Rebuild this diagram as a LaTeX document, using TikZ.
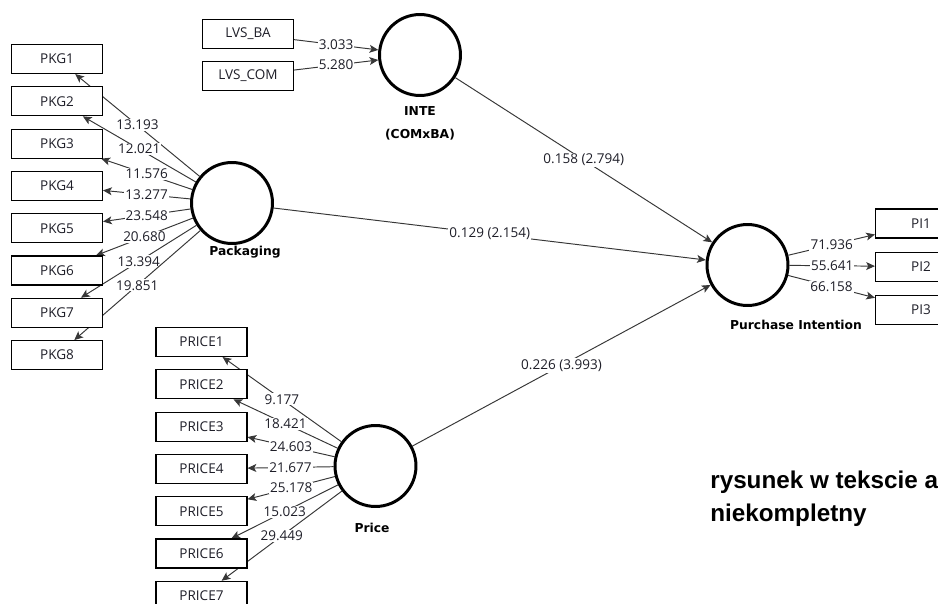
\documentclass[tikz,border=0pt]{standalone}
\usepackage{fontspec}
\setmainfont{Open Sans}
\newfontfamily\heavyfont{DejaVu Sans}
\newfontfamily\notefont{Liberation Sans}
\usepackage{tikz}
\usetikzlibrary{arrows.meta,positioning,backgrounds}
\definecolor{plsline}{RGB}{55,55,55}
\definecolor{plstext}{RGB}{30,30,40}

\begin{document}
\begin{tikzpicture}[x=0.02cm,y=-0.02cm,
  ind/.style={draw,fill=white,line width=0.6pt,minimum width=1.82cm,minimum height=0.58cm,inner sep=0pt,font=\fontsize{7.7}{9}\selectfont,text=plstext},
  lat/.style={circle,draw,line width=1.7pt,fill=white,minimum size=1.62cm,inner sep=0pt},
  latlbl/.style={font=\heavyfont\bfseries\fontsize{7}{13}\selectfont,align=center},
  arr/.style={-{Stealth[length=5pt,width=4.5pt,inset=1.2pt]},line width=0.55pt,draw=plsline},
  val/.style={fill=white,inner sep=0.6pt,font=\fontsize{7.7}{9}\selectfont,text=plstext},
  note/.style={font=\notefont\bfseries\fontsize{13.8}{17}\selectfont,inner sep=0pt},
  node distance=0.245cm]
  \useasboundingbox (0,0) rectangle (938,603);
  % latent variables
  \node[lat] (inte) at (420,55) {};
  \node[latlbl] (intelbl) at (420,123) {INTE\\(COMxBA)};
  \node[lat] (pack) at (232,203) {};
  \node[latlbl] (packlbl) at (245,252) {Packaging};
  \node[lat] (price) at (375.5,466) {};
  \node[latlbl] (pricelbl) at (372,528) {Price};
  \node[lat] (pi) at (747.5,265) {};
  \node[latlbl] (pilbl) at (796,325) {Purchase Intention};
  % interaction indicators
  \node[ind,minimum width=1.82cm] (lvsba) at (248,34) {LVS\_BA};
  \node[ind,below=0.23cm of lvsba] (lvscom) {LVS\_COM};
  % packaging indicators
  \node[ind] (pkg1) at (57,59) {PKG1};
  \node[ind,below=of pkg1] (pkg2) {PKG2};
  \node[ind,below=of pkg2] (pkg3) {PKG3};
  \node[ind,below=of pkg3] (pkg4) {PKG4};
  \node[ind,below=of pkg4] (pkg5) {PKG5};
  \node[ind,below=of pkg5] (pkg6) {PKG6};
  \node[ind,below=of pkg6] (pkg7) {PKG7};
  \node[ind,below=of pkg7] (pkg8) {PKG8};
  % price indicators
  \node[ind] (price1) at (201.5,342) {PRICE1};
  \node[ind,below=of price1] (price2) {PRICE2};
  \node[ind,below=of price2] (price3) {PRICE3};
  \node[ind,below=of price3] (price4) {PRICE4};
  \node[ind,below=of price4] (price5) {PRICE5};
  \node[ind,below=of price5] (price6) {PRICE6};
  \node[ind,below=of price6] (price7) {PRICE7};
  % purchase intention indicators
  \node[ind] (pi1) at (921,223.5) {PI1};
  \node[ind,below=0.26cm of pi1] (pi2) {PI2};
  \node[ind,below=0.26cm of pi2] (pi3) {PI3};
  \begin{scope}[on background layer]
  \draw[arr] (lvsba) -- node[val]{3.033} (inte);
  \draw[arr] (lvscom) -- node[val]{5.280} (inte);
  \draw[arr] (pack) -- node[val]{13.193} (pkg1);
  \draw[arr] (pack) -- node[val]{12.021} (pkg2);
  \draw[arr] (pack) -- node[val]{11.576} (pkg3);
  \draw[arr] (pack) -- node[val]{13.277} (pkg4);
  \draw[arr] (pack) -- node[val]{23.548} (pkg5);
  \draw[arr] (pack) -- node[val]{20.680} (pkg6);
  \draw[arr] (pack) -- node[val]{13.394} (pkg7);
  \draw[arr] (pack) -- node[val]{19.851} (pkg8);
  \draw[arr] (price) -- node[val]{9.177} (price1);
  \draw[arr] (price) -- node[val]{18.421} (price2);
  \draw[arr] (price) -- node[val]{24.603} (price3);
  \draw[arr] (price) -- node[val]{21.677} (price4);
  \draw[arr] (price) -- node[val]{25.178} (price5);
  \draw[arr] (price) -- node[val]{15.023} (price6);
  \draw[arr] (price) -- node[val]{29.449} (price7);
  \draw[arr] (pi) -- node[val]{71.936} (pi1);
  \draw[arr] (pi) -- node[val]{55.641} (pi2);
  \draw[arr] (pi) -- node[val]{66.158} (pi3);
  % structural paths
  \draw[arr] (inte) -- node[val]{0.158 (2.794)} (pi);
  \draw[arr] (pack) -- node[val]{0.129 (2.154)} (pi);
  \draw[arr] (price) -- node[val]{0.226 (3.993)} (pi);
  \end{scope}
  \node[note,anchor=base west] (note1) at (710,488) {rysunek w tekscie a};
  \node[note,anchor=base west] (note2) at (710,521.5) {niekompletny};
\end{tikzpicture}
\end{document}
